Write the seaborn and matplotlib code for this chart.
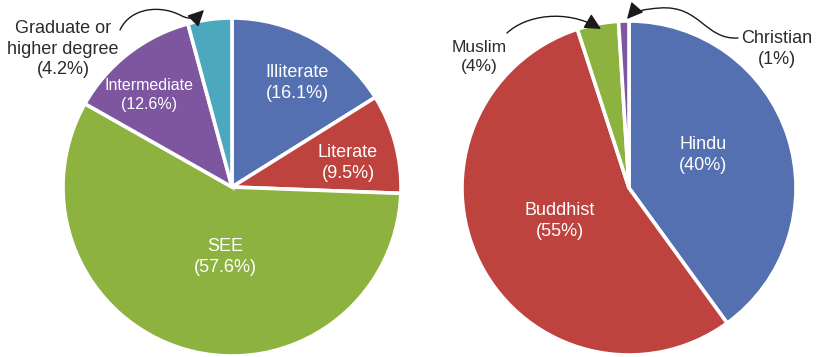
import matplotlib
matplotlib.use("Agg")
import matplotlib.pyplot as plt
from matplotlib.patches import FancyArrowPatch
from matplotlib.path import Path
import seaborn as sns

# Education level of respondents (%)
edu_labels = ["Illiterate", "Literate", "SEE", "Intermediate", "Graduate or\nhigher degree"]
edu_values = [16.1, 9.5, 57.6, 12.6, 4.2]
edu_colors = ["#5470B0", "#BE433E", "#8DB23F", "#7E56A0", "#4BA8BE"]

# Religion of respondents (%)
rel_labels = ["Hindu", "Buddhist", "Muslim", "Christian"]
rel_values = [40, 55, 4, 1]
rel_colors = ["#5470B0", "#BE433E", "#8DB23F", "#7E56A0"]

sns.set_theme(style="white")
plt.rcParams["font.family"] = ["Liberation Sans", "DejaVu Sans"]

W, H = 818, 357
fig = plt.figure(figsize=(W / 100, H / 100), dpi=100)
ax = fig.add_axes([0, 0, 1, 1])


def Y(y):
    return H - y


wedge_style = dict(edgecolor="white", linewidth=2.6)

ax.pie(edu_values, colors=sns.color_palette(edu_colors), startangle=90,
       counterclock=False, center=(232, Y(187)), radius=169,
       explode=[0.02] * len(edu_values), wedgeprops=wedge_style, frame=True)
ax.pie(rel_values, colors=sns.color_palette(rel_colors), startangle=90,
       counterclock=False, center=(629, Y(188)), radius=167,
       explode=[0.025] * len(rel_values), wedgeprops=wedge_style, frame=True)
ax.set_xlim(0, W)
ax.set_ylim(0, H)
ax.set_aspect("equal")
ax.axis("off")


def lab(name, value):
    return f"{name}\n({value:g}%)"


inner = dict(color="white", ha="center", va="center", linespacing=1.25)
outer = dict(color="#2b2b2b", ha="center", va="center", linespacing=1.25)

# labels inside the education pie
ax.text(297, Y(83), lab(edu_labels[0], edu_values[0]), fontsize=13, **inner)
ax.text(348, Y(163), lab(edu_labels[1], edu_values[1]), fontsize=13, **inner)
ax.text(225, Y(257), lab(edu_labels[2], edu_values[2]), fontsize=13, **inner)
ax.text(149, Y(95), lab(edu_labels[3], edu_values[3]), fontsize=11.5, **inner)
ax.text(63, Y(49), lab(edu_labels[4], edu_values[4]), fontsize=13, **outer)

# labels of the religion pie
ax.text(703, Y(155), lab(rel_labels[0], rel_values[0]), fontsize=13, **inner)
ax.text(560, Y(221), lab(rel_labels[1], rel_values[1]), fontsize=13, **inner)
ax.text(479, Y(57), lab(rel_labels[2], rel_values[2]), fontsize=12.5, **outer)
ax.text(777, Y(49), lab(rel_labels[3], rel_values[3]), fontsize=13, **outer)


def curved_arrow(points):
    verts = [(x, Y(y)) for x, y in points]
    codes = [Path.MOVETO] + [Path.CURVE4] * (len(verts) - 1)
    arrow = FancyArrowPatch(path=Path(verts, codes),
                            arrowstyle="-|>,head_length=0.7,head_width=0.35",
                            mutation_scale=14, color="#1a1a1a", lw=1.0)
    ax.add_patch(arrow)


# callouts for the thin slices
curved_arrow([(120, 30), (130, 8), (160, 4), (182, 16),
              (190, 20), (196, 18), (204, 10)])
curved_arrow([(507, 33), (525, 16), (565, 8), (601, 29)])
curved_arrow([(738, 38), (705, 40), (700, 5), (660, 8),
              (645, 9), (634, 11), (627, 19)])

fig.savefig("out.png", dpi=100, facecolor="white")
